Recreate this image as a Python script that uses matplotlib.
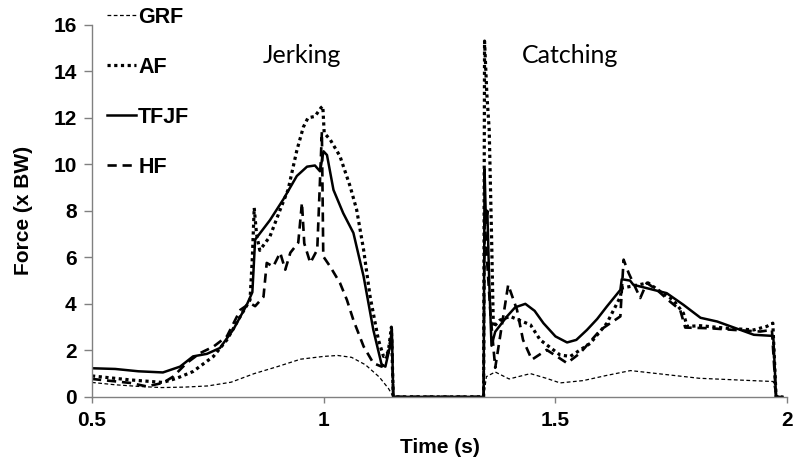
import matplotlib
matplotlib.use("Agg")
import matplotlib.pyplot as plt

# ---------------- data ----------------
grf_t = [0.5, 0.55, 0.6, 0.65, 0.7, 0.75, 0.8, 0.85, 0.9, 0.95, 1.0, 1.03, 1.06, 1.09, 1.12, 1.14, 1.15,
         1.345, 1.351, 1.37, 1.40, 1.446, 1.48, 1.51, 1.56, 1.61, 1.662, 1.72, 1.81, 1.9, 1.97, 1.976, 1.99]
grf_v = [0.62, 0.52, 0.45, 0.40, 0.42, 0.47, 0.63, 1.0, 1.3, 1.62, 1.74, 1.78, 1.7, 1.38, 0.85, 0.35, 0.0,
         0.0, 0.87, 1.07, 0.77, 1.0, 0.8, 0.6, 0.7, 0.92, 1.13, 1.0, 0.8, 0.72, 0.66, 0.0, 0.0]

af_t = [0.5, 0.582, 0.653, 0.683, 0.718, 0.762, 0.791, 0.82, 0.841, 0.846, 0.850, 0.855, 0.862, 0.884, 0.906,
        0.923, 0.942, 0.956, 0.966, 0.981, 0.994, 0.998, 1.001, 1.014, 1.035, 1.057, 1.071, 1.086, 1.1, 1.118,
        1.129, 1.139, 1.146, 1.15, 1.345, 1.347, 1.352, 1.357, 1.362, 1.366, 1.38, 1.402, 1.446, 1.467, 1.51,
        1.532, 1.575, 1.611, 1.64, 1.643, 1.662, 1.7, 1.726, 1.754, 1.776, 1.784, 1.813, 1.87, 1.928, 1.956,
        1.969, 1.976, 1.99]
af_v = [0.9, 0.73, 0.62, 0.8, 1.09, 1.74, 2.45, 3.46, 4.17, 6.0, 8.13, 7.0, 6.3, 6.9, 8.05,
        8.9, 10.6, 11.6, 12.0, 12.06, 12.43, 12.5, 11.35, 11.06, 10.35, 9.05, 8.05, 6.33, 4.32, 2.45,
        1.74, 1.9, 3.0, 0.0, 0.0, 15.3, 13.0, 11.5, 7.0, 3.0, 3.3, 3.46, 3.1, 2.45, 1.8,
        1.74, 2.3, 3.17, 4.3, 4.68, 4.75, 4.9, 4.53, 4.17, 3.6, 3.03, 3.06, 2.95, 2.88, 3.03,
        3.17, 0.0, 0.0]

tfjf_t = [0.5, 0.55, 0.6, 0.653, 0.69, 0.718, 0.748, 0.776, 0.805, 0.834, 0.846, 0.852, 0.863, 0.884, 0.913,
          0.942, 0.964, 0.981, 0.992, 0.9995, 1.007, 1.021, 1.042, 1.064, 1.086, 1.107, 1.125, 1.133, 1.143,
          1.147, 1.15, 1.345, 1.347, 1.350, 1.353, 1.357, 1.362, 1.37, 1.395, 1.413, 1.435, 1.455, 1.474,
          1.5, 1.525, 1.545, 1.568, 1.59, 1.611, 1.64, 1.643, 1.661, 1.668, 1.74, 1.776, 1.813, 1.849,
          1.899, 1.928, 1.97, 1.976, 1.99]
tfjf_v = [1.23, 1.2, 1.1, 1.05, 1.3, 1.74, 1.85, 2.1, 2.9, 3.96, 4.5, 6.76, 7.05, 7.6, 8.5,
          9.5, 9.9, 9.95, 9.7, 10.56, 10.4, 8.9, 7.9, 7.05, 5.18, 2.88, 1.38, 1.3, 2.17,
          2.9, 0.0, 0.0, 9.8, 7.5, 8.0, 5.0, 2.2, 2.8, 3.45, 3.85, 4.0, 3.7, 3.17,
          2.6, 2.34, 2.45, 2.88, 3.35, 3.89, 4.6, 5.06, 5.0, 4.82, 4.46, 3.96, 3.4, 3.24,
          2.88, 2.67, 2.62, 0.0, 0.0]

hf_t = [0.5, 0.582, 0.618, 0.653, 0.675, 0.704, 0.733, 0.762, 0.791, 0.82, 0.841, 0.852, 0.87, 0.877, 0.891,
        0.906, 0.917, 0.928, 0.945, 0.953, 0.958, 0.971, 0.986, 0.992, 0.996, 0.999, 1.014, 1.035, 1.05,
        1.064, 1.086, 1.107, 1.125, 1.136, 1.147, 1.15, 1.345, 1.347, 1.352, 1.36, 1.37, 1.398, 1.417, 1.43,
        1.449, 1.481, 1.503, 1.525, 1.553, 1.597, 1.64, 1.643, 1.647, 1.658, 1.683, 1.697, 1.719, 1.747,
        1.769, 1.78, 1.834, 1.884, 1.942, 1.967, 1.976, 1.99]
hf_v = [0.77, 0.6, 0.45, 0.6, 0.87, 1.45, 1.88, 2.16, 2.6, 3.74, 4.03, 3.9, 4.3, 5.76, 5.6,
        6.2, 5.47, 6.2, 6.63, 8.35, 6.6, 5.76, 6.33, 9.34, 11.4, 6.04, 5.6, 4.9, 4.17,
        3.3, 2.17, 1.45, 1.3, 1.74, 2.7, 0.0, 0.0, 7.8, 6.0, 3.5, 1.25, 4.82, 3.74, 2.45,
        1.6, 2.02, 1.74, 1.45, 1.88, 2.88, 3.46, 4.53, 5.9, 5.32, 4.25, 4.9, 4.6, 4.1,
        3.74, 2.98, 2.95, 2.88, 2.81, 2.88, 0.0, 0.0]

series_names = ["GRF", "AF", "TFJF", "HF"]
x_ticks = [0.5, 1, 1.5, 2]
x_tick_labels = ["0.5", "1", "1.5", "2"]
y_ticks = [0, 2, 4, 6, 8, 10, 12, 14, 16]
phase_labels = ["Jerking", "Catching"]
phase_label_x = [0.953, 1.531]
phase_label_y = [14.7, 14.7]

# ---------------- drawing ----------------
plt.rcParams['font.family'] = ['Liberation Sans', 'DejaVu Sans']
fig = plt.figure(figsize=(8, 4.68), dpi=100)
ax = fig.add_axes([0.115, 0.152, 0.869, 0.795])

ax.plot(grf_t, grf_v, color='black', lw=0.9, linestyle=(0, (3, 2)), label=series_names[0])
ax.plot(af_t, af_v, color='black', lw=2.3, linestyle=(0, (1, 1.1)), label=series_names[1])
ax.plot(tfjf_t, tfjf_v, color='black', lw=1.8, linestyle='-', label=series_names[2])
ax.plot(hf_t, hf_v, color='black', lw=1.9, linestyle=(0, (3.5, 2.2)), label=series_names[3])

ax.set_xlim(0.5, 2)
ax.set_ylim(0, 16)
ax.set_xticks(x_ticks)
ax.set_xticklabels(x_tick_labels)
ax.set_yticks(y_ticks)
for s in ['top', 'right']:
    ax.spines[s].set_visible(False)
for s in ['left', 'bottom']:
    ax.spines[s].set_color('#808080')
    ax.spines[s].set_linewidth(1.0)
ax.tick_params(axis='y', direction='out', length=6, width=1, color='#808080',
               labelsize=15, pad=5)
ax.tick_params(axis='x', direction='out', length=4.5, width=1, color='#808080',
               labelsize=15, pad=6)
for lab in ax.get_xticklabels() + ax.get_yticklabels():
    lab.set_fontweight('bold')

ax.set_xlabel("Time (s)", fontsize=15, fontweight='bold')
ax.set_ylabel("Force (x BW)", fontsize=15, fontweight='bold')
ax.xaxis.set_label_coords(0.5, -0.11)
ax.yaxis.set_label_coords(-0.085, 0.5)

for lbl, lx, ly in zip(phase_labels, phase_label_x, phase_label_y):
    ax.text(lx, ly, lbl, fontsize=18, family=['Lato', 'DejaVu Sans'], ha='center', va='center',
            color='black')

leg = ax.legend(loc='upper left', bbox_to_anchor=(107 / 800, 1 - 7 / 468),
                bbox_transform=fig.transFigure, frameon=False, handlelength=1.35,
                handletextpad=0.1, labelspacing=1.34, borderpad=0, borderaxespad=0,
                prop={'weight': 'bold', 'size': 15.5})

fig.savefig("out.png", dpi=100)
